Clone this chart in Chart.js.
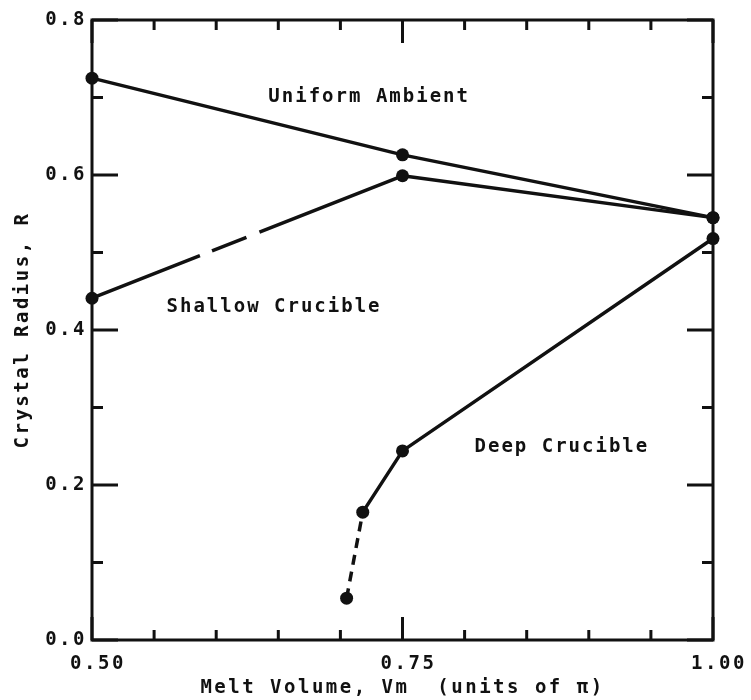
<!DOCTYPE html>
<html>
<head>
<meta charset="utf-8">
<script src="https://cdn.jsdelivr.net/npm/chart.js@4.4.0/dist/chart.umd.min.js"></script>
<style>
html, body { margin: 0; padding: 0; background: #fff; }
#wrap { width: 751px; height: 700px; position: relative; }
</style>
</head>
<body>
<div id="wrap"><canvas id="radiuschart"></canvas></div>
<script>
// values
var uniformX = [0.50, 0.75, 1.00],
    uniformR = [0.725, 0.626, 0.545];
var shallowX = [0.50, 0.75, 1.00],
    shallowR = [0.441, 0.599, 0.545];
var deepX = [0.705, 0.718, 0.75, 1.00],
    deepR = [0.054, 0.165, 0.244, 0.518];
var curveNames = ["Uniform Ambient", "Shallow Crucible", "Deep Crucible"];
var xTitle = "Melt Volume, Vm  (units of \u03c0)",
    yTitle = "Crystal Radius, R";

var ink = "#111";
var plotFont = { family: "'DejaVu Sans Mono', monospace", size: 19, weight: "bold" };

function pts(xs, ys) {
  return xs.map((v, i) => ({ x: v, y: ys[i] }));
}
function isMajorX(v) { return Math.abs(v * 4 - Math.round(v * 4)) < 1e-6; }
function isMajorY(v) { return Math.abs(v * 5 - Math.round(v * 5)) < 1e-6; }

function lineSet(label, data, dashFirst) {
  return {
    label: label,
    data: data,
    borderColor: ink,
    backgroundColor: ink,
    borderWidth: 3.5,
    pointRadius: 6.5,
    pointBorderWidth: 0,
    pointBackgroundColor: ink,
    tension: 0,
    clip: false,
    segment: {
      borderDash: (c) => (c.p0DataIndex === 0 ? dashFirst : undefined),
    },
  };
}

// frame, inward ticks and the curve names
var plotterFrame = {
  id: "plotterFrame",
  beforeDraw(chart) {
    chart.ctx.letterSpacing = "2.5px";
  },
  afterDraw(chart) {
    let ctx = chart.ctx, a = chart.chartArea;
    let xs = chart.scales.x, ys = chart.scales.y;
    ctx.save();
    ctx.strokeStyle = ink;
    ctx.lineWidth = 3;
    ctx.strokeRect(a.left, a.top, a.right - a.left, a.bottom - a.top);
    ctx.beginPath();
    xs.ticks.forEach((t) => {
      let px = xs.getPixelForValue(t.value);
      let len = isMajorX(t.value) ? 23 : 10;
      ctx.moveTo(px, a.bottom); ctx.lineTo(px, a.bottom - len);
      ctx.moveTo(px, a.top); ctx.lineTo(px, a.top + len);
    });
    ys.ticks.forEach((t) => {
      let py = ys.getPixelForValue(t.value);
      let len = isMajorY(t.value) ? 26 : 11;
      ctx.moveTo(a.left, py); ctx.lineTo(a.left + len, py);
      ctx.moveTo(a.right, py); ctx.lineTo(a.right - len, py);
    });
    ctx.stroke();

    let notes = chart.options.plugins.plotterFrame.notes;
    ctx.font = "bold 19px 'DejaVu Sans Mono', monospace";
    ctx.letterSpacing = "2px";
    ctx.fillStyle = ink;
    ctx.textAlign = "left";
    ctx.textBaseline = "middle";
    notes.forEach((n, i) => {
      ctx.fillText(curveNames[i], xs.getPixelForValue(n[0]), ys.getPixelForValue(n[1]));
    });
    ctx.restore();
  },
};

let ctx = document.getElementById("radiuschart").getContext("2d");

let chart = new Chart(ctx, {
  type: "line",
  data: {
    datasets: [
      lineSet(curveNames[0], pts(uniformX, uniformR), undefined),
      lineSet(curveNames[1], pts(shallowX, shallowR), [116, 13, 37, 14, 400]),
      lineSet(curveNames[2], pts(deepX, deepR), [10, 7]),
    ],
  },
  plugins: [plotterFrame],
  options: {
    responsive: true,
    maintainAspectRatio: false,
    animation: false,
    layout: { padding: { left: 0, right: 38, top: 20, bottom: 0 } },
    plugins: {
      legend: { display: false },
      tooltip: { enabled: false },
      plotterFrame: {
        // label anchors in data units (left edge, middle)
        notes: [[0.642, 0.70], [0.560, 0.430], [0.808, 0.249]],
      },
    },
    scales: {
      x: {
        type: "linear",
        min: 0.5,
        max: 1.0,
        grid: { display: false, drawTicks: false },
        border: { display: false },
        ticks: {
          stepSize: 0.05,
          autoSkip: false,
          maxRotation: 0,
          padding: 13,
          labelOffset: 6,
          color: ink,
          font: plotFont,
          callback: (v) => (isMajorX(v) ? v.toFixed(2) : ""),
        },
        title: {
          display: true,
          text: xTitle,
          color: ink,
          font: plotFont,
          padding: { top: 2, bottom: 1 },
        },
        afterFit: (s) => { s.height = 60; },
      },
      y: {
        type: "linear",
        min: 0,
        max: 0.8,
        grid: { display: false, drawTicks: false },
        border: { display: false },
        ticks: {
          stepSize: 0.1,
          autoSkip: false,
          padding: 5,
          color: ink,
          font: plotFont,
          callback: (v) => (isMajorY(v) ? v.toFixed(1) : ""),
        },
        title: {
          display: true,
          text: yTitle,
          color: ink,
          font: plotFont,
          padding: { top: 12, bottom: 4 },
        },
        afterFit: (s) => { s.width = 92; },
      },
    },
  },
});
</script>
</body>
</html>
